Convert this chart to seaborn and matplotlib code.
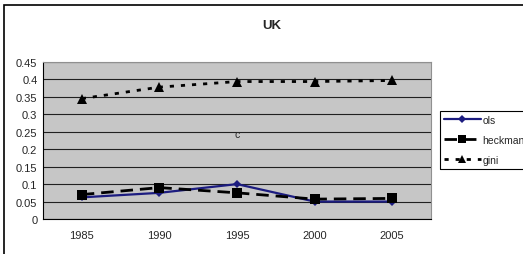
import pandas as pd
import matplotlib.pyplot as plt
import matplotlib.patches as mpatches
import seaborn as sns

# values
years = ['1985', '1990', '1995', '2000', '2005']
ols = [0.062, 0.075, 0.100, 0.050, 0.050]
heckman = [0.070, 0.090, 0.075, 0.057, 0.059]
gini = [0.345, 0.378, 0.394, 0.394, 0.397]

df = pd.DataFrame({'pos': range(len(years)), 'ols': ols, 'heckman': heckman, 'gini': gini})

sns.set_style('white')
plt.rcParams['font.family'] = ['Liberation Sans', 'DejaVu Sans']

fig = plt.figure(figsize=(5.23, 2.55), dpi=100)
ax = fig.add_axes([43 / 523, 1 - 220 / 255, 388 / 523, 157 / 255])
ax.set_facecolor('#c6c6c6')

sns.lineplot(data=df, x='pos', y='ols', ax=ax, color='#1c1c80', lw=1.6,
             marker='D', markersize=4.5, markeredgewidth=0, label='ols')
sns.lineplot(data=df, x='pos', y='heckman', ax=ax, color='black', lw=2,
             linestyle=(0, (4.5, 2.5)), marker='s', markersize=7,
             markeredgewidth=0, label='heckman')
sns.lineplot(data=df, x='pos', y='gini', ax=ax, color='black', lw=2,
             linestyle=(0, (1.5, 2.5)), marker='^', markersize=7.5,
             markeredgewidth=0, label='gini')

ax.set_xlim(-0.5, len(years) - 0.5)
ax.set_ylim(0, 0.45)
ax.set_yticks([i * 0.05 for i in range(10)])
ax.set_yticklabels(['0', '0.05', '0.1', '0.15', '0.2', '0.25', '0.3', '0.35', '0.4', '0.45'])
ax.set_xticks(range(len(years)))
ax.set_xticklabels(years)
ax.set_xticks([i - 0.5 for i in range(len(years) + 1)], minor=True)
ax.tick_params(axis='x', which='major', length=0, labelsize=8, pad=8)
ax.tick_params(axis='x', which='minor', length=4, width=0.8, direction='out', color='black')
ax.tick_params(axis='y', length=3, width=0.8, direction='out', color='black', labelsize=8, pad=1)
ax.yaxis.grid(True, color='#202020', lw=0.8)
ax.set_axisbelow(True)
ax.set_xlabel('')
ax.set_ylabel('')

for side in ['top', 'right']:
    ax.spines[side].set_color('#909090')
    ax.spines[side].set_linewidth(0.8)
for side in ['left', 'bottom']:
    ax.spines[side].set_color('black')
    ax.spines[side].set_linewidth(0.8)

ax.get_legend().remove()
handles, labels = ax.get_legend_handles_labels()
leg = fig.legend(handles, labels, loc='upper left', bbox_to_anchor=(441 / 523, 1 - 113 / 255),
                 fontsize=7.5, frameon=False, handlelength=3.5, markerscale=0.8,
                 handletextpad=0.15, borderpad=0.3, labelspacing=0.95, borderaxespad=0)

# legend box, running off the right edge like the original
fig.patches.append(mpatches.Rectangle((440 / 523, 1 - 170 / 255), 0.3, 58 / 255,
                                      transform=fig.transFigure, fill=False,
                                      edgecolor='black', lw=0.8))

fig.text(272 / 523, 1 - 26 / 255, 'UK', ha='center', va='center', fontsize=9.5, fontweight='bold')
ax.text(2, 0.245, 'c', ha='center', va='center', fontsize=7.5)

# outer chart border (runs off the right and bottom edges)
fig.patches.append(mpatches.Rectangle((4 / 523, -0.1), 1.2, 1 - 6 / 255 + 0.1,
                                      transform=fig.transFigure, fill=False,
                                      edgecolor='black', lw=1.2))

plt.savefig('out.png', dpi=100)
